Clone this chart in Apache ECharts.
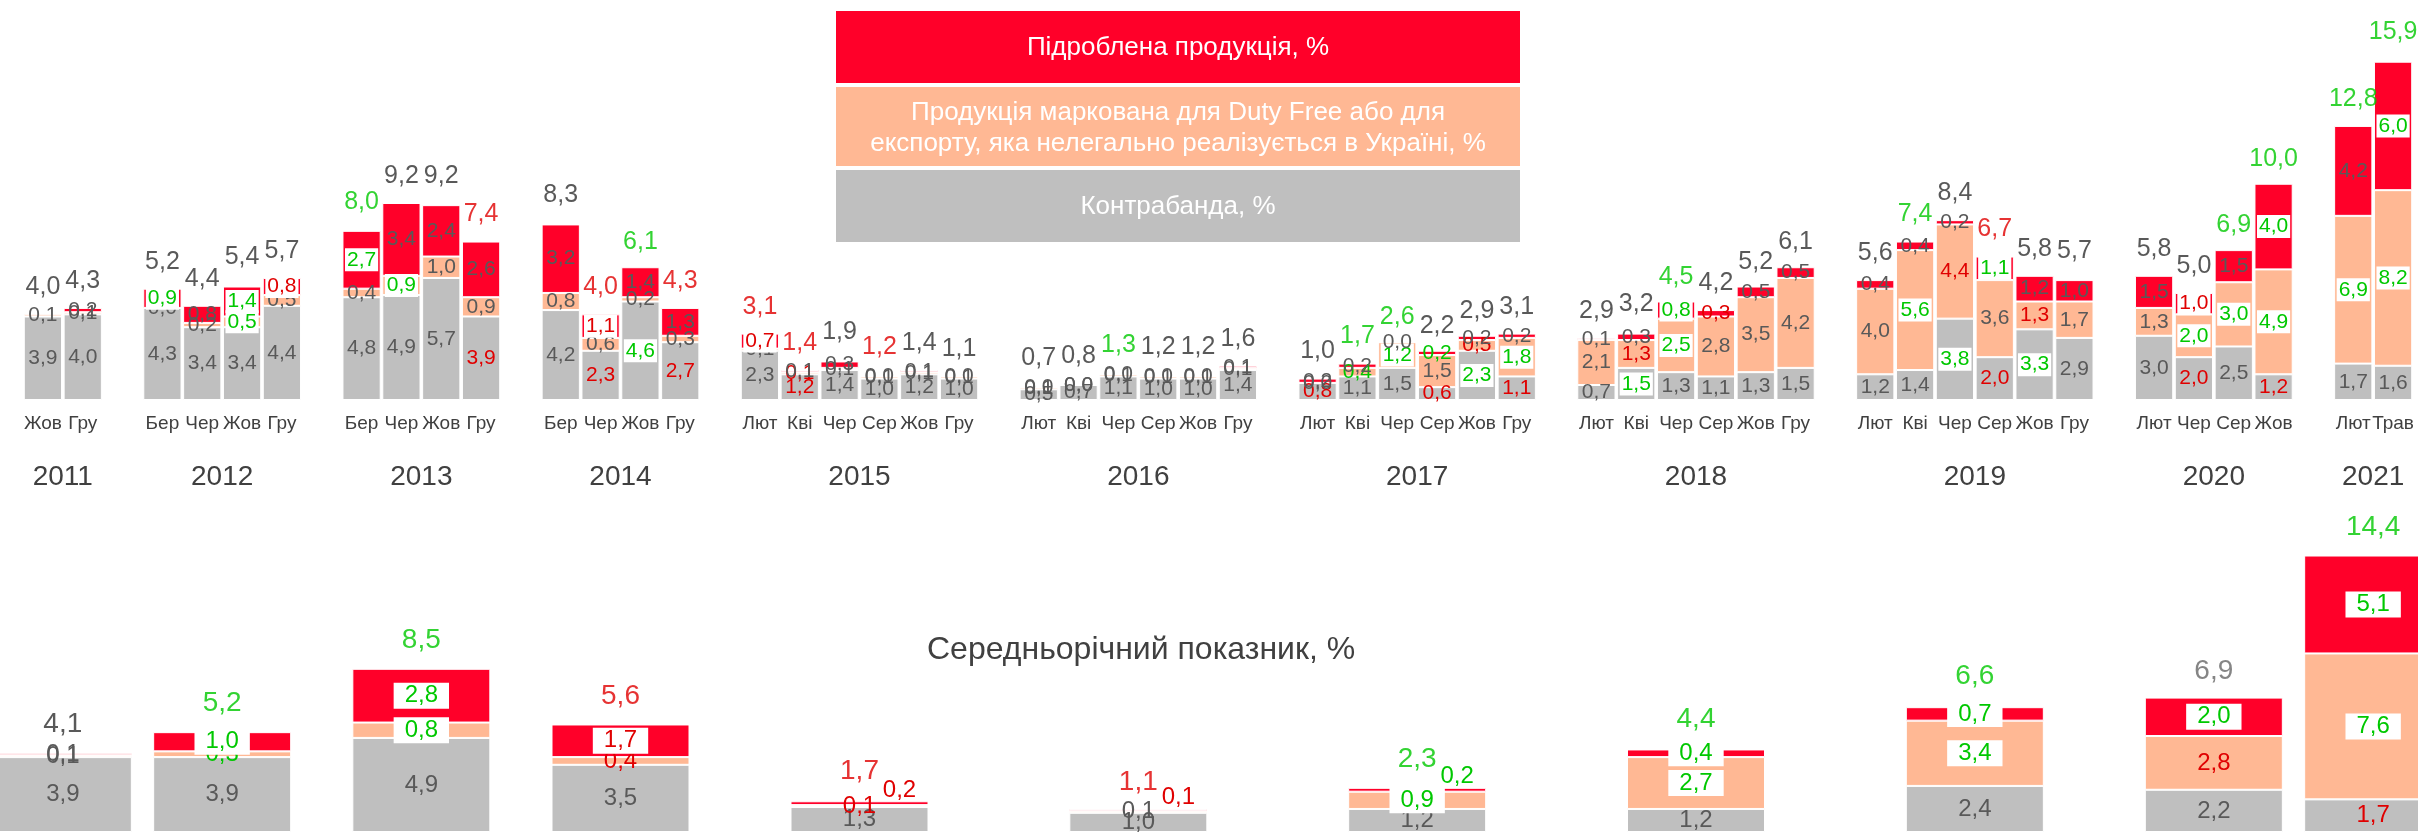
<!DOCTYPE html>
<html>
<head>
<meta charset="utf-8">
<script src="https://cdn.jsdelivr.net/npm/echarts/dist/echarts.min.js"></script>
<style>
  html, body { margin: 0; padding: 0; background: #fff; }
  #chart { width: 2418px; height: 832px; }
</style>
</head>
<body>
<div id="chart"></div>
<script>
// роки та місяці спостережень
var years = ['2011', '2012', '2013', '2014', '2015', '2016', '2017', '2018', '2019', '2020', '2021'];
var months = [
    ['Жов', 'Гру'],
    ['Бер', 'Чер', 'Жов', 'Гру'],
    ['Бер', 'Чер', 'Жов', 'Гру'],
    ['Бер', 'Чер', 'Жов', 'Гру'],
    ['Лют', 'Кві', 'Чер', 'Сер', 'Жов', 'Гру'],
    ['Лют', 'Кві', 'Чер', 'Сер', 'Жов', 'Гру'],
    ['Лют', 'Кві', 'Чер', 'Сер', 'Жов', 'Гру'],
    ['Лют', 'Кві', 'Чер', 'Сер', 'Жов', 'Гру'],
    ['Лют', 'Кві', 'Чер', 'Сер', 'Жов', 'Гру'],
    ['Лют', 'Чер', 'Сер', 'Жов'],
    ['Лют', 'Трав']
];

// Контрабанда, %
var contraband = [
    [3.9, 4.0],
    [4.3, 3.4, 3.4, 4.4],
    [4.8, 4.9, 5.7, 3.9],
    [4.2, 2.3, 4.6, 2.7],
    [2.3, 1.2, 1.4, 1.0, 1.2, 1.0],
    [0.5, 0.7, 1.1, 1.0, 1.0, 1.4],
    [0.8, 1.1, 1.5, 0.6, 2.3, 1.1],
    [0.7, 1.5, 1.3, 1.1, 1.3, 1.5],
    [1.2, 1.4, 3.8, 2.0, 3.3, 2.9],
    [3.0, 2.0, 2.5, 1.2],
    [1.7, 1.6]
];
// Продукція для Duty Free / експорту, %
var dutyFree = [
    [0.1, 0.1],
    [0.0, 0.2, 0.5, 0.5],
    [0.4, 0.9, 1.0, 0.9],
    [0.8, 0.6, 0.2, 0.3],
    [0.1, 0.1, 0.1, 0.1, 0.1, 0.1],
    [0.1, 0.0, 0.1, 0.1, 0.1, 0.1],
    [0.0, 0.4, 1.2, 1.5, 0.5, 1.8],
    [2.1, 1.3, 2.5, 2.8, 3.5, 4.2],
    [4.0, 5.6, 4.4, 3.6, 1.3, 1.7],
    [1.3, 2.0, 3.0, 4.9],
    [6.9, 8.2]
];
// Підроблена продукція, %
var fake = [
    [null, 0.2],
    [0.9, 0.8, 1.4, 0.8],
    [2.7, 3.4, 2.4, 2.6],
    [3.2, 1.1, 1.4, 1.3],
    [0.7, 0.1, 0.3, 0.0, 0.1, 0.0],
    [0.0, 0.0, 0.0, 0.0, 0.0, 0.1],
    [0.2, 0.2, 0.0, 0.2, 0.2, 0.2],
    [0.1, 0.3, 0.8, 0.3, 0.5, 0.5],
    [0.4, 0.4, 0.2, 1.1, 1.2, 1.0],
    [1.5, 1.0, 1.5, 4.0],
    [4.2, 6.0]
];
var totals = [
    [4.0, 4.3],
    [5.2, 4.4, 5.4, 5.7],
    [8.0, 9.2, 9.2, 7.4],
    [8.3, 4.0, 6.1, 4.3],
    [3.1, 1.4, 1.9, 1.2, 1.4, 1.1],
    [0.7, 0.8, 1.3, 1.2, 1.2, 1.6],
    [1.0, 1.7, 2.6, 2.2, 2.9, 3.1],
    [2.9, 3.2, 4.5, 4.2, 5.2, 6.1],
    [5.6, 7.4, 8.4, 6.7, 5.8, 5.7],
    [5.8, 5.0, 6.9, 10.0],
    [12.8, 15.9]
];

// зміни: g - зріс (на білому), G - зріс, r - впав, R - впав (на білому), n - нейтрально, o - зсув
var contrabandMark = [
    ['', ''], ['', '', '', ''], ['', '', '', 'r'], ['', 'r', 'g', 'r'],
    ['', 'r', '', '', '', ''], ['', '', '', '', '', ''], ['r', '', '', 'r', 'g', 'r'],
    ['', 'g', '', '', '', ''], ['', '', 'g', 'r', 'g', ''], ['', 'r', '', 'r'], ['', '']
];
var dutyFreeMark = [
    ['', ''], ['', '', 'g', ''], ['', 'g', '', ''], ['', '', '', ''],
    ['', 'r', '', '', '', ''], ['', '', '', '', '', ''], ['', 'G', 'g', '', 'r', 'g'],
    ['', 'r', 'g', '', '', ''], ['', 'g', 'r', '', 'r', ''], ['', 'g', 'g', 'g'], ['g', 'g']
];
var fakeMark = [
    ['', ''], ['g', '', 'g', 'R'], ['g', '', '', ''], ['', 'R', '', ''],
    ['R', '', '', '', '', ''], ['', '', '', '', '', ''], ['', '', '', 'G', '', ''],
    ['', '', 'g', 'r', '', ''], ['', '', '', 'g', '', ''], ['', 'R', '', 'g'], ['', 'g']
];
var totalMark = [
    ['', ''], ['', '', '', ''], ['G', '', '', 'r'], ['', 'r', 'G', 'r'],
    ['r', 'r', '', 'r', '', ''], ['', '', 'G', '', '', ''], ['', 'G', 'G', '', '', ''],
    ['', '', 'G', '', '', ''], ['', 'G', '', 'r', '', ''], ['', '', 'G', 'G'], ['G', 'G']
];

// середньорічний показник
var avgContraband = [3.9, 3.9, 4.9, 3.5, 1.3, 1.0, 1.2, 1.2, 2.4, 2.2, 1.7];
var avgDutyFree = [0.1, 0.3, 0.8, 0.4, 0.1, 0.1, 0.9, 2.7, 3.4, 2.8, 7.6];
var avgFake = [0.1, 1.0, 2.8, 1.7, 0.2, 0.1, 0.2, 0.4, 0.7, 2.0, 5.1];
var avgTotal = [4.1, 5.2, 8.5, 5.6, 1.7, 1.1, 2.3, 4.4, 6.6, 6.9, 14.4];
var avgContrabandMark = ['', '', '', '', '', '', '', '', '', '', 'r'];
var avgDutyFreeMark = ['', 'G', 'g', 'r', 'r', '', 'g', 'g', 'g', 'r', 'g'];
var avgFakeMark = ['', 'g', 'g', 'R', 'ro', 'ro', 'Go', 'g', 'g', 'g', 'g'];
var avgTotalMark = ['', 'G', 'G', 'r', 'r', 'r', 'G', 'G', 'G', 'n', 'G'];

var GRAY = '#BFBFBF', PEACH = '#FFB894', RED = '#FF0029';
var GREEN_TXT = '#00C800', RED_TXT = '#E00000', LBL = '#595959', DARK = '#303030';
var FONT = '"Liberation Sans", Arial, sans-serif';

// категорії: між роками порожній слот
var catLabels = [], slotFirst = [], slotLast = [];
months.forEach(function (ms, i) {
    if (i > 0) catLabels.push('');
    slotFirst.push(catLabels.length);
    ms.forEach(function (m) { catLabels.push(m); });
    slotLast.push(catLabels.length - 1);
});
var yearCenter = years.map(function (y, i) { return (slotFirst[i] + slotLast[i]) / 2; });

function spread(nested, gap) {
    var out = [];
    nested.forEach(function (g, i) {
        if (i > 0) out.push(gap);
        g.forEach(function (v) { out.push(v); });
    });
    return out;
}

function fmt(v) {
    if (Array.isArray(v)) v = v[0];
    if (v == null || v === '') return '';
    return v.toFixed(1).replace('.', ',');
}

function markLabel(m, pad) {
    var l = {};
    if (!m) return l;
    var c = m.charAt(0);
    if (c === 'g' || c === 'G') l.color = GREEN_TXT;
    if (c === 'r' || c === 'R') l.color = RED_TXT;
    if (c === 'n') l.color = '#666666';
    if (c === 'g' || c === 'R') {
        l.backgroundColor = '#ffffff';
        l.padding = pad;
    }
    if (m.indexOf('o') >= 0) l.offset = [40, -13];
    return l;
}

function topBar(name, nested, marks, color) {
    var vals = spread(nested, null), mk = spread(marks, '');
    return {
        name: name, type: 'bar', stack: 'month', xAxisIndex: 0, yAxisIndex: 0,
        barCategoryGap: '4%',
        itemStyle: { color: color, borderColor: '#ffffff', borderWidth: 1 },
        label: { show: true, position: 'inside', fontSize: 21, color: LBL, fontFamily: FONT,
            formatter: function (p) { return fmt(p.value); } },
        data: vals.map(function (v, i) { return { value: v, label: markLabel(mk[i], [1, 2]) }; })
    };
}

// значення першим, позиція другою - щоб стекувалась саме висота
function avgBar(name, vals, marks, color) {
    return {
        name: name, type: 'bar', stack: 'avg', xAxisIndex: 1, yAxisIndex: 1,
        barWidth: 138,
        encode: { x: 1, y: 0 },
        itemStyle: { color: color, borderColor: '#ffffff', borderWidth: 1 },
        label: { show: true, position: 'inside', fontSize: 24, color: LBL, fontFamily: FONT,
            formatter: function (p) { return fmt(p.value); } },
        data: vals.map(function (v, i) {
            return { value: [v, yearCenter[i]], label: markLabel(marks[i], [1, 11]) };
        })
    };
}

var topTotals = spread(totals, null), topTotalMk = spread(totalMark, '');

var chart = echarts.init(document.getElementById('chart'));
chart.setOption({
    animation: false,
    textStyle: { fontFamily: FONT },
    grid: [
        { left: 23, right: 5, top: 36, height: 364 },
        { left: 23, right: 5, top: 544, height: 291 }
    ],
    xAxis: [
        { type: 'category', gridIndex: 0, data: catLabels,
          axisLine: { show: false }, axisTick: { show: false },
          axisLabel: { interval: 0, fontSize: 19, color: '#404040', margin: 14, fontFamily: FONT } },
        { type: 'value', gridIndex: 1, min: -0.5, max: catLabels.length - 0.5, show: false }
    ],
    yAxis: [
        { type: 'value', gridIndex: 0, min: 0, max: 17, show: false },
        { type: 'value', gridIndex: 1, min: 0, max: 15, show: false }
    ],
    series: [
        topBar('Контрабанда, %', contraband, contrabandMark, GRAY),
        topBar('Duty Free', dutyFree, dutyFreeMark, PEACH),
        topBar('Підроблена продукція, %', fake, fakeMark, RED),
        {
            type: 'scatter', xAxisIndex: 0, yAxisIndex: 0, symbolSize: 1,
            itemStyle: { color: 'rgba(0,0,0,0)' },
            label: { show: true, position: 'top', distance: 14, fontSize: 25, color: DARK, fontFamily: FONT,
                formatter: function (p) { return fmt(p.value); } },
            data: topTotals.map(function (v, i) {
                return { value: v, label: markLabel(topTotalMk[i], 0) };
            })
        },
        avgBar('Контрабанда, %', avgContraband, avgContrabandMark, GRAY),
        avgBar('Duty Free', avgDutyFree, avgDutyFreeMark, PEACH),
        avgBar('Підроблена продукція, %', avgFake, avgFakeMark, RED),
        {
            type: 'scatter', xAxisIndex: 1, yAxisIndex: 1, symbolSize: 1,
            encode: { x: 1, y: 0 },
            itemStyle: { color: 'rgba(0,0,0,0)' },
            label: { show: true, position: 'top', distance: 14, fontSize: 28, color: DARK, fontFamily: FONT,
                formatter: function (p) { return fmt(p.value); } },
            data: avgTotal.map(function (v, i) {
                return { value: [v, yearCenter[i]], label: markLabel(avgTotalMark[i], 0) };
            })
        }
    ]
});

// підписи років, легенда, заголовок нижньої частини
var graphics = [];
years.forEach(function (y, i) {
    var x = (chart.convertToPixel({ xAxisIndex: 0 }, slotFirst[i]) +
             chart.convertToPixel({ xAxisIndex: 0 }, slotLast[i])) / 2;
    graphics.push({ type: 'text', x: x, y: 477,
        style: { text: y, font: '28px ' + FONT, fill: '#404040', align: 'center', verticalAlign: 'middle' } });
});

var legendX = 836, legendW = 684;
graphics.push({ type: 'rect', shape: { x: legendX, y: 11, width: legendW, height: 72 }, style: { fill: RED } });
graphics.push({ type: 'rect', shape: { x: legendX, y: 87, width: legendW, height: 79 }, style: { fill: PEACH } });
graphics.push({ type: 'rect', shape: { x: legendX, y: 170, width: legendW, height: 72 }, style: { fill: GRAY } });
var legendTexts = [
    ['Підроблена продукція, %', 48],
    ['Продукція маркована для Duty Free або для', 113],
    ['експорту, яка нелегально реалізується в Україні, %', 144],
    ['Контрабанда, %', 207]
];
legendTexts.forEach(function (t) {
    graphics.push({ type: 'text', x: legendX + legendW / 2, y: t[1],
        style: { text: t[0], font: '26px ' + FONT, fill: '#ffffff', align: 'center', verticalAlign: 'middle' } });
});
graphics.push({ type: 'text', x: 927, y: 650,
    style: { text: 'Середньорічний показник, %', font: '32px ' + FONT, fill: '#404040', align: 'left', verticalAlign: 'middle' } });

chart.setOption({ graphic: graphics });
</script>
</body>
</html>
